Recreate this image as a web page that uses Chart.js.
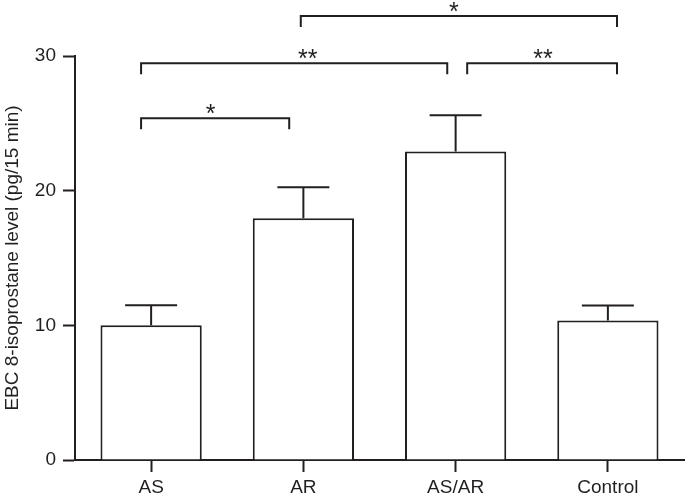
<!DOCTYPE html>
<html>
<head>
<meta charset="utf-8">
<script src="https://cdn.jsdelivr.net/npm/chart.js@4/dist/chart.umd.min.js"></script>
<style>
  html, body { margin: 0; padding: 0; background: #fff; }
  #wrap { width: 685px; height: 497px; position: relative; }
</style>
</head>
<body>
<div id="wrap"><canvas id="c" width="685" height="497"></canvas></div>
<script>
// ---- data ----
const categories = ['AS', 'AR', 'AS/AR', 'Control'];
const meanValues = [10.0, 17.95, 22.9, 10.35];
const errorTops = [11.5, 20.25, 25.6, 11.47];
const yTicks = [0, 10, 20, 30];
const yTitle = 'EBC 8-isoprostane level (pg/15 min)';

// significance brackets (positions in category units)
const bracketStart = [-0.066, -0.066, 2.076, 0.983];
const bracketEnd   = [0.907, 1.945, 3.06, 3.06];
const bracketLevel = [25.37, 29.46, 29.46, 32.97];
const bracketLabel = ['*', '**', '**', '*'];
const bracketLabelPos = [0.39, 1.028, 2.574, 1.989];

const INK = '#231f20';
const FONT = "'Liberation Sans', Arial, Helvetica, sans-serif";

const errorBarPlugin = {
  id: 'errorBars',
  afterDatasetsDraw(chart) {
    const ctx = chart.ctx;
    const y = chart.scales.y;
    const meta = chart.getDatasetMeta(0);
    ctx.save();
    ctx.strokeStyle = INK;
    ctx.lineWidth = 2;
    meta.data.forEach((bar, i) => {
      const top = y.getPixelForValue(errorTops[i]);
      ctx.beginPath();
      ctx.moveTo(bar.x, bar.y);
      ctx.lineTo(bar.x, top);
      ctx.moveTo(bar.x - 26, top);
      ctx.lineTo(bar.x + 26, top);
      ctx.stroke();
    });
    ctx.restore();
  }
};

const bracketPlugin = {
  id: 'brackets',
  afterDraw(chart) {
    const ctx = chart.ctx;
    const x = chart.scales.x;
    const y = chart.scales.y;
    ctx.save();
    ctx.strokeStyle = INK;
    ctx.fillStyle = INK;
    ctx.lineWidth = 2;
    ctx.font = '25px ' + FONT;
    ctx.textAlign = 'center';
    ctx.textBaseline = 'alphabetic';
    for (let i = 0; i < bracketStart.length; i++) {
      const x1 = x.getPixelForValue(bracketStart[i]);
      const x2 = x.getPixelForValue(bracketEnd[i]);
      const yy = y.getPixelForValue(bracketLevel[i]);
      ctx.beginPath();
      ctx.moveTo(x1, yy + 11);
      ctx.lineTo(x1, yy);
      ctx.lineTo(x2, yy);
      ctx.lineTo(x2, yy + 11);
      ctx.stroke();
      ctx.fillText(bracketLabel[i], x.getPixelForValue(bracketLabelPos[i]), yy + 4);
    }
    ctx.restore();
  }
};

new Chart(document.getElementById('c'), {
  type: 'bar',
  data: {
    labels: categories,
    datasets: [{
      data: meanValues,
      backgroundColor: '#ffffff',
      borderColor: INK,
      borderWidth: 2,
      borderSkipped: 'bottom',
      barPercentage: 0.665,
      categoryPercentage: 1.0
    }]
  },
  options: {
    responsive: false,
    animation: false,
    events: [],
    layout: { padding: { top: 56, left: 0, right: 1, bottom: 0 } },
    plugins: { legend: { display: false }, tooltip: { enabled: false } },
    scales: {
      x: {
        offset: true,
        afterFit(scale) { scale.height = 37; },
        grid: {
          offset: false,
          drawOnChartArea: false,
          drawTicks: true,
          tickLength: 12,
          tickWidth: 2,
          tickColor: INK
        },
        border: { display: true, color: INK, width: 2 },
        ticks: {
          color: INK,
          padding: 4,
          font: { family: FONT, size: 19 },
          maxRotation: 0
        }
      },
      y: {
        min: 0,
        max: 30,
        afterFit(scale) { scale.width = 75; },
        afterBuildTicks(scale) { scale.ticks = yTicks.map(v => ({ value: v })); },
        grid: {
          drawOnChartArea: false,
          drawTicks: true,
          tickLength: 12,
          tickWidth: 2,
          tickColor: INK
        },
        border: { display: true, color: INK, width: 2 },
        ticks: {
          color: INK,
          padding: 7,
          font: { family: FONT, size: 19 }
        },
        title: {
          display: true,
          text: yTitle,
          color: INK,
          font: { family: FONT, size: 19 },
          padding: { top: 1, bottom: 0 }
        }
      }
    }
  },
  plugins: [errorBarPlugin, bracketPlugin]
});
</script>
</body>
</html>
